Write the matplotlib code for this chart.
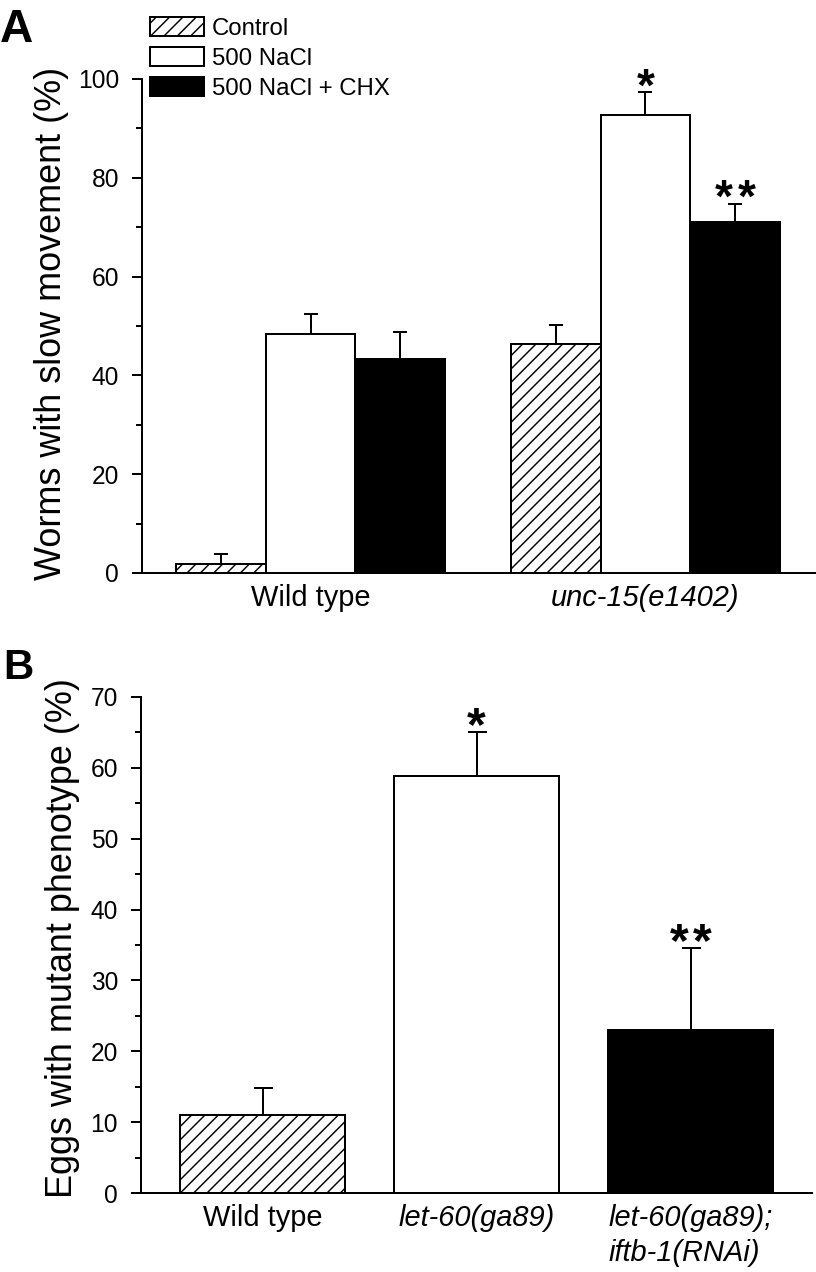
import matplotlib
matplotlib.use("Agg")
import matplotlib.pyplot as plt
import numpy as np
from matplotlib.ticker import MultipleLocator

# panel A: worms with slow movement (%)
strains_a = ["Wild type", "unc-15(e1402)"]
treatments = ["Control", "500 NaCl", "500 NaCl + CHX"]
control_mean = [1.9, 46.4]
control_err = [2.0, 3.8]
nacl_mean = [48.4, 92.7]
nacl_err = [4.1, 4.6]
chx_mean = [43.4, 71.0]
chx_err = [5.4, 3.7]
nacl_stars = ["", "*"]
chx_stars = ["", "**"]

# panel B: eggs with mutant phenotype (%)
strains_b = ["Wild type", "let-60(ga89)", "let-60(ga89);\niftb-1(RNAi)"]
eggs_mean = [11.1, 58.8, 23.0]
eggs_err = [3.7, 6.2, 11.6]
eggs_stars = ["", "*", "**"]

DPI = 80
W, H = 816, 1272
PT = 72 / DPI  # points per pixel

plt.rcParams.update({
    "font.family": ["Liberation Sans", "DejaVu Sans"],
    "hatch.linewidth": 1.3,
    "hatch.color": "black",
    "axes.linewidth": 1.8,
})

LW = 2 * PT
STYLES = [
    dict(facecolor="white", hatch="//"),
    dict(facecolor="white"),
    dict(facecolor="black"),
]


def px_axes(fig, left, top, right, bottom):
    return fig.add_axes([left / W, 1 - bottom / H, (right - left) / W, (bottom - top) / H])


def style_axis(ax, ymax, major, minor):
    for side in ("top", "right"):
        ax.spines[side].set_visible(False)
    ax.set_ylim(0, ymax)
    ax.yaxis.set_major_locator(MultipleLocator(major))
    ax.yaxis.set_minor_locator(MultipleLocator(minor))
    ax.tick_params(axis="y", which="major", direction="out", length=10 * PT, width=LW,
                   labelsize=24.5 * PT, pad=13 * PT)
    ax.tick_params(axis="y", which="minor", direction="out", length=6 * PT, width=LW)
    ax.tick_params(axis="x", length=0, labelsize=29 * PT, pad=11 * PT)


def bars(ax, pos, mean, err, width, style, cap, label=None):
    cont = ax.bar(pos, mean, width, edgecolor="black", linewidth=LW, label=label, zorder=2, **style)
    ax.errorbar(pos, mean, yerr=[np.zeros(len(mean)), err], fmt="none", ecolor="black",
                elinewidth=LW, capthick=LW, capsize=cap * PT, zorder=3)
    return cont


def stars(ax, pos, mean, err, marks, size, lift):
    for p, m, e, s in zip(pos, mean, err, marks):
        for k in range(len(s)):
            dx = (k - (len(s) - 1) / 2) * 23
            ax.annotate("*", xy=(p, m + e), xytext=(dx * PT, -lift * PT), textcoords="offset points",
                        ha="center", va="baseline", fontsize=size * PT, fontweight="bold")


fig = plt.figure(figsize=(W / DPI, H / DPI), dpi=DPI)

# ---- panel A
ax_a = px_axes(fig, 142, 79, 816, 573)
style_axis(ax_a, 100, 20, 10)
x_a = np.arange(len(strains_a))
bw = 0.267
series = [(control_mean, control_err, ["", ""]), (nacl_mean, nacl_err, nacl_stars),
          (chx_mean, chx_err, chx_stars)]
handles = []
for i, (m, e, st) in enumerate(series):
    pos = x_a + (i - 1) * bw
    handles.append(bars(ax_a, pos, m, e, bw, STYLES[i], 6.5, treatments[i]))
    stars(ax_a, pos, m, e, st, 46, 8)
ax_a.set_xlim(-0.503, 1.509)
ax_a.set_xticks(x_a, strains_a)
ax_a.get_xticklabels()[1].set_fontstyle("italic")

fig.legend(handles, treatments, loc="upper left", bbox_to_anchor=(150 / W, 1 - 17 / H),
           frameon=False, fontsize=24 * PT, handlelength=2.25, handleheight=0.83,
           labelspacing=0.3, handletextpad=0.33, borderpad=0, borderaxespad=0)

fig.text(52 / W, 1 - 323 / H, "Worms with slow movement (%)", rotation=90,
         ha="center", va="center", fontsize=36 * PT)
fig.text(0, 1 - 8 / H, "A", ha="left", va="top", fontsize=46 * PT, fontweight="bold")

# ---- panel B
ax_b = px_axes(fig, 141, 696.7, 811.7, 1193.3)
style_axis(ax_b, 70, 10, 5)
x_b = np.arange(len(strains_b))
bw_b = 0.771
for i in range(len(strains_b)):
    bars(ax_b, [x_b[i]], [eggs_mean[i]], [eggs_err[i]], bw_b, STYLES[i], 9.5)
stars(ax_b, x_b, eggs_mean, eggs_err, eggs_stars, 48, 8)
ax_b.set_xlim(-0.568, 2.566)
ax_b.set_xticks(x_b, strains_b)
for lab in ax_b.get_xticklabels()[1:]:
    lab.set_fontstyle("italic")
    lab.set_multialignment("left")
    lab.set_linespacing(1.3)

fig.text(63 / W, 1 - 938.5 / H, "Eggs with mutant phenotype (%)", rotation=90,
         ha="center", va="center", fontsize=36 * PT)
fig.text(3 / W, 1 - 648 / H, "B", ha="left", va="top", fontsize=42 * PT, fontweight="bold")

fig.savefig("out.png", dpi=DPI)
